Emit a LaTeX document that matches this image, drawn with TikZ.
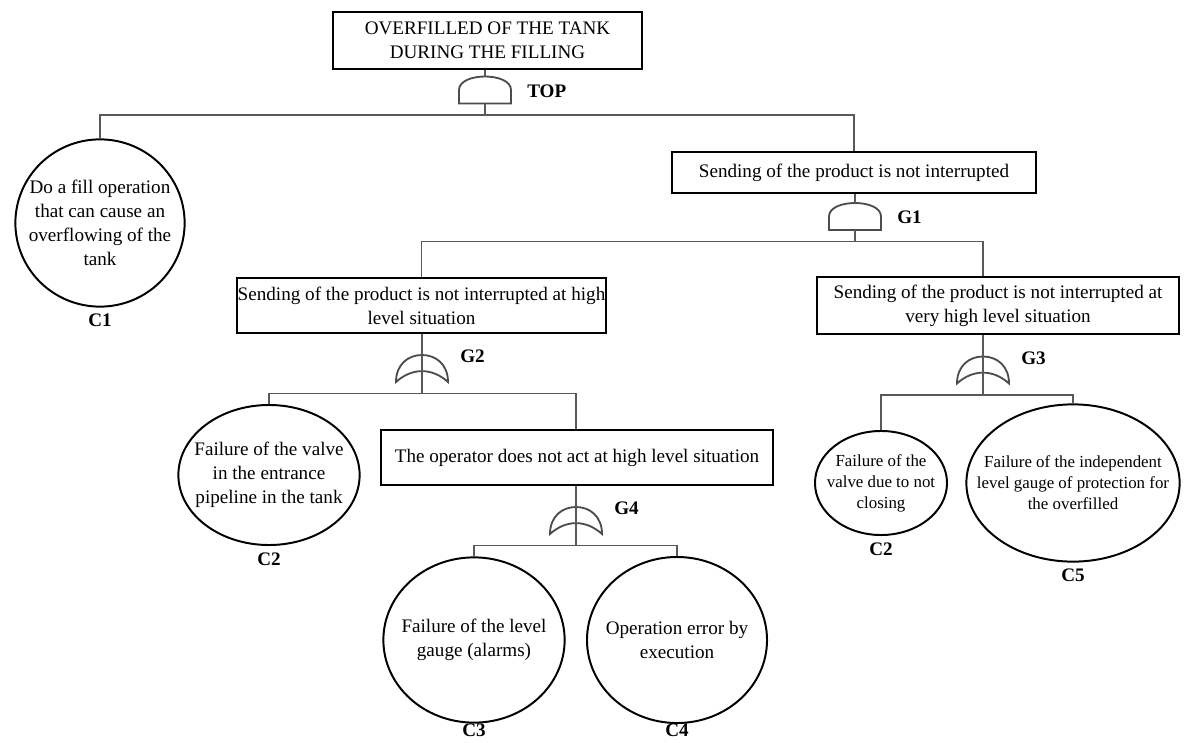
\documentclass[tikz,border=0pt]{standalone}
\usepackage{fontspec}
\setmainfont{Liberation Serif}
\usetikzlibrary{shapes.geometric}
\usetikzlibrary{positioning}

\newcommand{\evfont}{\fontsize{13.6}{17}\selectfont}
\newcommand{\smfont}{\fontsize{12}{15}\selectfont}

\tikzset{
  event/.style={draw, line width=1.4pt, align=center, inner sep=0pt, font=\evfont},
  basic/.style={draw, ellipse, line width=1.4pt, align=center, inner sep=-0.8cm, font=\evfont},
  wire/.style={line width=1.3pt, draw=black!65},
  gate/.style={line width=1.3pt, draw=black!70},
  tag/.style={font=\evfont\bfseries, inner sep=0pt, anchor=west},
  ctag/.style={font=\evfont\bfseries, inner sep=0pt, yshift=-1.6mm},
  andgate/.pic={
    \draw[gate] (-26,13.5) -- (-26,0) .. controls (-26,-18) and (26,-18) .. (26,0) -- (26,13.5) -- cycle;
    \coordinate (-in) at (0,-13.5);
    \coordinate (-out) at (0,13.5);
    \coordinate (-bar) at (0,25);
    \node[tag] (-tag) at (42,1) {\tikzpictext};
  },
  orgate/.pic={
    \draw[gate] (-26,13.5) .. controls (-26,-4) and (-14,-13.5) .. (0,-13.5)
      .. controls (14,-13.5) and (26,-4) .. (26,13.5)
      .. controls (10,-1) and (-10,-1) .. (-26,13.5) -- cycle;
    \coordinate (-in) at (0,-13.5);
    \coordinate (-out) at (0,13.5);
    \coordinate (-bar) at (0,25);
    \node[tag] (-tag) at (38,-12) {\tikzpictext};
  }
}

\begin{document}
\begin{tikzpicture}[x=0.025cm, y=-0.025cm]
  \useasboundingbox (0,0) rectangle (1188,742);

  % top event
  \node[event, minimum width=7.73cm, minimum height=1.43cm] (top) at (487.5,40.5) {OVERFILLED OF THE TANK\\DURING THE FILLING};
  \pic[pic text=TOP] (tg) at (485,90) {andgate};

  % first level
  \node[basic, minimum width=4.23cm, minimum height=4.18cm, label={[ctag]below:C1}] (c1) at (100,223) {Do a fill operation\\that can cause an\\overflowing of the\\tank};
  \node[event, minimum width=9.1cm, minimum height=1.03cm] (g1box) at (854,172.5) {Sending of the product is not interrupted};
  \pic[pic text=G1] (g1) at (855,216.5) {andgate};

  % branch G2
  \node[event, minimum width=9.23cm, minimum height=1.38cm] (g2box) at (421.5,305.5) {Sending of the product is not interrupted at high\\level situation};
  \pic[pic text=G2] (g2) at (422,368.5) {orgate};
  \node[basic, minimum width=4.53cm, minimum height=3.5cm, label={[ctag]below:C2}] (c2a) at (269,475) {Failure of the valve\\in the entrance\\pipeline in the tank};
  \node[event, minimum width=9.8cm, minimum height=1.38cm] (g4box) at (577,457.5) {The operator does not act at high level situation};
  \pic[pic text=G4] (g4) at (576,520.5) {orgate};
  \node[basic, minimum width=4.53cm, minimum height=4.13cm, label={[ctag, yshift=1.6mm]below:C3}] (c3) at (474,640) {Failure of the level\\gauge (alarms)};
  \node[basic, minimum width=4.5cm, minimum height=4.15cm, label={[ctag, yshift=1.6mm]below:C4}] (c4) at (677,640) {Operation error by\\execution};

  % branch G3
  \node[event, minimum width=9.05cm, minimum height=1.43cm] (g3box) at (998,305.5) {Sending of the product is not interrupted at\\very high level situation};
  \pic[pic text=G3] (g3) at (983,370) {orgate};
  \node[basic, font=\smfont, minimum width=3.3cm, minimum height=2.6cm, label={[ctag]below:C2}] (c2b) at (881,483) {Failure of the\\valve due to not\\closing};
  \node[basic, font=\smfont, minimum width=5.33cm, minimum height=3.93cm, label={[ctag]below:C5}] (c5) at (1073,483) {Failure of the independent\\level gauge of protection for\\the overfilled};

  % connectors
  \draw[wire] (top.south -| tg-in) -- (tg-in);
  \draw[wire] (tg-out) -- (tg-bar);
  \draw[wire] (c1.north) |- (tg-bar) -| (g1box.north);
  \draw[wire] (g1box.south -| g1-in) -- (g1-in);
  \draw[wire] (g1-out) -- (g1-bar);
  \draw[wire] (g2box.north) |- (g1-bar) -| (g3-in |- g3box.north);
  \draw[wire] (g2box.south -| g2-in) -- (g2-bar);
  \draw[wire] (c2a.north) |- (g2-bar) -| (g4-in |- g4box.north);
  \draw[wire] (g4box.south -| g4-in) -- (g4-bar);
  \draw[wire] (c3.north) |- (g4-bar) -| (c4.north);
  \draw[wire] (g3box.south -| g3-in) -- (g3-bar);
  \draw[wire] (c2b.north) |- (g3-bar) -| (c5.north);
\end{tikzpicture}
\end{document}
